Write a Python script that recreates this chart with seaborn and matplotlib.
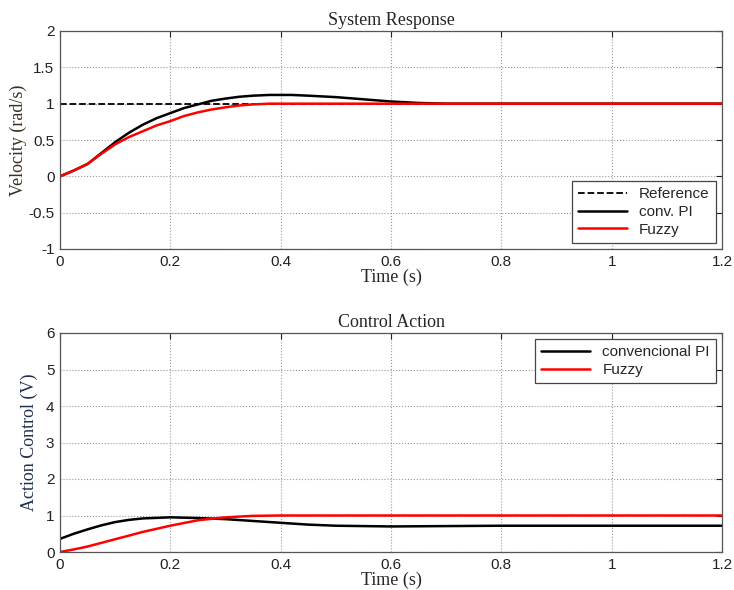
import numpy as np
import pandas as pd
import matplotlib
matplotlib.use('Agg')
import matplotlib.pyplot as plt
import seaborn as sns

# ============================================================
# DATA
# ============================================================
t_vel = [0.0, 0.025, 0.05, 0.075, 0.10, 0.125, 0.15, 0.175, 0.20, 0.225, 0.25, 0.275, 0.30, 0.325,
         0.35, 0.38, 0.42, 0.45, 0.50, 0.55, 0.60, 0.65, 0.70, 0.80, 1.00, 1.20]
vel_pi = [0.0, 0.08, 0.17, 0.32, 0.47, 0.60, 0.71, 0.80, 0.87, 0.94, 0.99, 1.04, 1.07, 1.095,
          1.11, 1.12, 1.12, 1.11, 1.09, 1.06, 1.03, 1.01, 1.00, 1.00, 1.00, 1.00]
vel_fuzzy = [0.0, 0.08, 0.17, 0.31, 0.44, 0.54, 0.62, 0.70, 0.76, 0.83, 0.88, 0.92, 0.95, 0.975,
             0.99, 1.00, 1.00, 1.00, 1.00, 1.00, 1.00, 1.00, 1.00, 1.00, 1.00, 1.00]
vel_ref = [1.0] * len(t_vel)

t_ctl = [0.0, 0.025, 0.05, 0.075, 0.10, 0.125, 0.15, 0.20, 0.25, 0.30, 0.35, 0.40, 0.45, 0.50,
         0.55, 0.60, 0.70, 0.80, 1.00, 1.20]
ctl_pi = [0.36, 0.50, 0.62, 0.73, 0.82, 0.88, 0.92, 0.95, 0.93, 0.90, 0.85, 0.80, 0.75, 0.72,
          0.71, 0.70, 0.71, 0.72, 0.72, 0.72]
ctl_fuzzy = [0.0, 0.07, 0.15, 0.25, 0.35, 0.45, 0.55, 0.72, 0.87, 0.95, 0.99, 1.00, 1.00, 1.00,
             1.00, 1.00, 1.00, 1.00, 1.00, 1.00]

x_ticks = [0, 0.2, 0.4, 0.6, 0.8, 1, 1.2]
x_ticklabels = ['0', '0.2', '0.4', '0.6', '0.8', '1', '1.2']
y1_ticks = [-1, -0.5, 0, 0.5, 1, 1.5, 2]
y1_ticklabels = ['-1', '-0.5', '0', '0.5', '1', '1.5', '2']
y2_ticks = [0, 1, 2, 3, 4, 5, 6]

df_vel = pd.DataFrame({'t': t_vel, 'ref': vel_ref, 'pi': vel_pi, 'fuzzy': vel_fuzzy})
df_ctl = pd.DataFrame({'t': t_ctl, 'pi': ctl_pi, 'fuzzy': ctl_fuzzy})

# ============================================================
# STYLE
# ============================================================
sns.set_style('white')
plt.rcParams['font.family'] = ['Liberation Sans', 'DejaVu Sans']
SERIF = ['Liberation Serif', 'DejaVu Serif']

fig = plt.figure(figsize=(7.34, 5.9), dpi=100)
ax1 = fig.add_axes([60 / 734, 1 - 249 / 590, 662 / 734, 218 / 590])
ax2 = fig.add_axes([60 / 734, 1 - 552 / 590, 662 / 734, 219 / 590])


def style_axes(ax):
    ax.set_xlim(0, 1.2)
    ax.set_xticks(x_ticks)
    ax.set_xticklabels(x_ticklabels)
    ax.grid(True, linestyle=':', color='#999999', linewidth=0.8)
    ax.tick_params(direction='in', top=True, right=True, length=4,
                   labelsize=11, colors='#222222', pad=4)
    for s in ax.spines.values():
        s.set_color('#555555')
        s.set_linewidth(0.9)


# --- System Response ---
sns.lineplot(data=df_vel, x='t', y='ref', ax=ax1, color='black', linestyle='--',
             linewidth=1.3, label='Reference')
sns.lineplot(data=df_vel, x='t', y='pi', ax=ax1, color='black', linewidth=1.8,
             label='conv. PI')
sns.lineplot(data=df_vel, x='t', y='fuzzy', ax=ax1, color='#ff0000', linewidth=1.8,
             label='Fuzzy')
style_axes(ax1)
ax1.set_ylim(-1, 2)
ax1.set_yticks(y1_ticks)
ax1.set_yticklabels(y1_ticklabels)
ax1.set_title('System Response', fontsize=13, family=SERIF, pad=4)
ax1.set_xlabel('Time (s)', fontsize=13, family=SERIF, labelpad=0)
ax1.set_ylabel('Velocity (rad/s)', fontsize=13, family=SERIF, color='#3a3020', labelpad=1)
leg1 = ax1.legend(loc='lower right', fontsize=11, frameon=True, fancybox=False,
                  edgecolor='#444444', framealpha=1, handlelength=3.2,
                  borderaxespad=0.4, labelspacing=0.25)
leg1.get_frame().set_linewidth(0.9)

# --- Control Action ---
sns.lineplot(data=df_ctl, x='t', y='pi', ax=ax2, color='black', linewidth=1.8,
             label='convencional PI')
sns.lineplot(data=df_ctl, x='t', y='fuzzy', ax=ax2, color='#ff0000', linewidth=1.8,
             label='Fuzzy')
style_axes(ax2)
ax2.set_ylim(0, 6)
ax2.set_yticks(y2_ticks)
ax2.set_title('Control Action', fontsize=13, family=SERIF, pad=4)
ax2.set_xlabel('Time (s)', fontsize=13, family=SERIF, labelpad=0)
ax2.set_ylabel('Action Control (V)', fontsize=13, family=SERIF, color='#1f3050', labelpad=6)
leg2 = ax2.legend(loc='upper right', fontsize=11, frameon=True, fancybox=False,
                  edgecolor='#444444', framealpha=1, handlelength=3.2,
                  borderaxespad=0.4, labelspacing=0.25)
leg2.get_frame().set_linewidth(0.9)

plt.savefig('out.png', dpi=100)
